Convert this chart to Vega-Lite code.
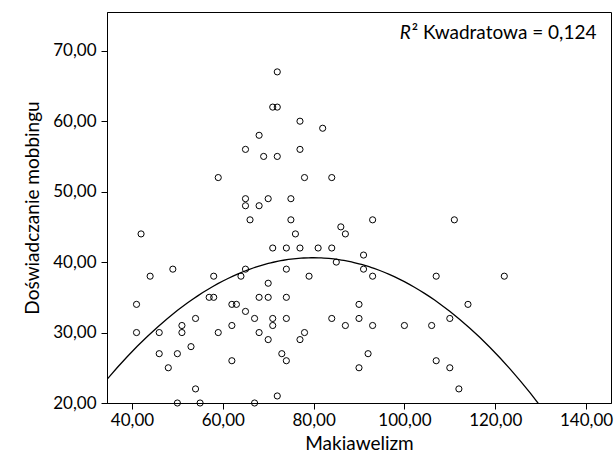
{
  "$schema": "https://vega.github.io/schema/vega-lite/v6.json",
  "autosize": "none",
  "width": 504,
  "height": 391,
  "padding": {"left": 107, "top": 12, "right": 5, "bottom": 64},
  "config": {
    "font": "Lato",
    "view": {"stroke": "#000000", "strokeWidth": 1},
    "axis": {
      "grid": false,
      "domainColor": "#000000",
      "tickColor": "#000000",
      "labelColor": "#000000",
      "titleColor": "#000000",
      "labelFont": "Lato",
      "titleFont": "Lato",
      "labelFontSize": 17,
      "titleFontSize": 19,
      "titleFontWeight": "normal",
      "tickSize": 6
    }
  },
  "datasets": {
    "pts": [
      {"m": 72, "d": 67}, {"m": 71, "d": 62}, {"m": 72, "d": 62}, {"m": 77, "d": 60}, {"m": 82, "d": 59},
      {"m": 68, "d": 58}, {"m": 65, "d": 56}, {"m": 77, "d": 56}, {"m": 69, "d": 55}, {"m": 72, "d": 55},
      {"m": 59, "d": 52}, {"m": 78, "d": 52}, {"m": 84, "d": 52}, {"m": 65, "d": 49}, {"m": 70, "d": 49},
      {"m": 75, "d": 49}, {"m": 65, "d": 48}, {"m": 68, "d": 48}, {"m": 66, "d": 46}, {"m": 75, "d": 46},
      {"m": 93, "d": 46}, {"m": 111, "d": 46}, {"m": 86, "d": 45}, {"m": 42, "d": 44}, {"m": 76, "d": 44},
      {"m": 87, "d": 44}, {"m": 71, "d": 42}, {"m": 74, "d": 42}, {"m": 77, "d": 42}, {"m": 81, "d": 42},
      {"m": 84, "d": 42}, {"m": 91, "d": 41}, {"m": 85, "d": 40}, {"m": 49, "d": 39}, {"m": 65, "d": 39},
      {"m": 74, "d": 39}, {"m": 91, "d": 39}, {"m": 44, "d": 38}, {"m": 58, "d": 38}, {"m": 64, "d": 38},
      {"m": 79, "d": 38}, {"m": 93, "d": 38}, {"m": 107, "d": 38}, {"m": 122, "d": 38}, {"m": 70, "d": 37},
      {"m": 57, "d": 35}, {"m": 58, "d": 35}, {"m": 68, "d": 35}, {"m": 70, "d": 35}, {"m": 74, "d": 35},
      {"m": 41, "d": 34}, {"m": 62, "d": 34}, {"m": 63, "d": 34}, {"m": 90, "d": 34}, {"m": 114, "d": 34},
      {"m": 65, "d": 33}, {"m": 54, "d": 32}, {"m": 67, "d": 32}, {"m": 71, "d": 32}, {"m": 74, "d": 32},
      {"m": 84, "d": 32}, {"m": 90, "d": 32}, {"m": 110, "d": 32}, {"m": 51, "d": 31}, {"m": 62, "d": 31},
      {"m": 71, "d": 31}, {"m": 87, "d": 31}, {"m": 93, "d": 31}, {"m": 100, "d": 31}, {"m": 106, "d": 31},
      {"m": 41, "d": 30}, {"m": 46, "d": 30}, {"m": 51, "d": 30}, {"m": 59, "d": 30}, {"m": 68, "d": 30},
      {"m": 78, "d": 30}, {"m": 70, "d": 29}, {"m": 77, "d": 29}, {"m": 53, "d": 28}, {"m": 46, "d": 27},
      {"m": 50, "d": 27}, {"m": 73, "d": 27}, {"m": 92, "d": 27}, {"m": 62, "d": 26}, {"m": 74, "d": 26},
      {"m": 107, "d": 26}, {"m": 48, "d": 25}, {"m": 90, "d": 25}, {"m": 110, "d": 25}, {"m": 54, "d": 22},
      {"m": 112, "d": 22}, {"m": 72, "d": 21}, {"m": 50, "d": 20}, {"m": 55, "d": 20}, {"m": 67, "d": 20}
    ],
    "ann": [{"r": "R", "rest": "² Kwadratowa = 0,124"}]
  },
  "layer": [
    {
      "data": {"name": "pts"},
      "mark": {"type": "point", "shape": "circle", "filled": false, "stroke": "#000000", "strokeWidth": 1, "size": 38, "opacity": 1},
      "encoding": {
        "x": {
          "field": "m", "type": "quantitative",
          "scale": {"domain": [34.5, 145.5], "nice": false, "zero": false},
          "axis": {"title": "Makiawelizm", "values": [40, 60, 80, 100, 120, 140], "labelExpr": "replace(format(datum.value, '.2f'), '.', ',')", "labelPadding": 3, "titlePadding": 6}
        },
        "y": {
          "field": "d", "type": "quantitative",
          "scale": {"domain": [20, 75.5], "nice": false, "zero": false},
          "axis": {"title": "Doświadczanie mobbingu", "values": [20, 30, 40, 50, 60, 70], "labelExpr": "replace(format(datum.value, '.2f'), '.', ',')", "labelPadding": 5, "titlePadding": 10}
        }
      }
    },
    {
      "data": {"name": "pts"},
      "transform": [{"regression": "d", "on": "m", "method": "poly", "order": 2, "extent": [34.5, 145.5]}],
      "mark": {"type": "line", "color": "#000000", "strokeWidth": 1.3, "clip": true},
      "encoding": {
        "x": {"field": "m", "type": "quantitative"},
        "y": {"field": "d", "type": "quantitative"}
      }
    },
    {
      "data": {"name": "ann"},
      "mark": {"type": "text", "align": "left", "baseline": "middle", "fontStyle": "italic", "fontSize": 19, "color": "#000000"},
      "encoding": {
        "x": {"datum": 99.0},
        "y": {"datum": 72.5},
        "text": {"field": "r"}
      }
    },
    {
      "data": {"name": "ann"},
      "mark": {"type": "text", "align": "left", "baseline": "middle", "fontSize": 19, "color": "#000000"},
      "encoding": {
        "x": {"datum": 101.6},
        "y": {"datum": 72.5},
        "text": {"field": "rest"}
      }
    }
  ]
}
